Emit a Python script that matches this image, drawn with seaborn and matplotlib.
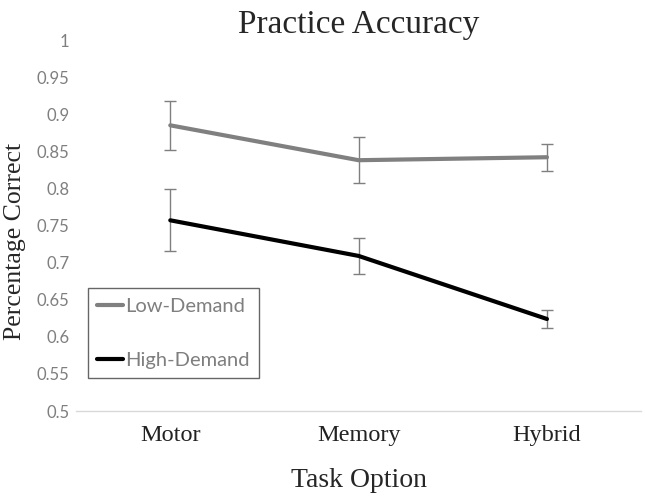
import numpy as np
import pandas as pd
import seaborn as sns
import matplotlib.pyplot as plt
from matplotlib.ticker import FixedLocator

# Data
tasks = ["Motor", "Memory", "Hybrid"]
low_demand = [0.885, 0.838, 0.842]
low_err = [0.033, 0.031, 0.018]
high_demand = [0.757, 0.709, 0.624]
high_err = [0.042, 0.024, 0.012]

df = pd.DataFrame({
    "Task": tasks * 2,
    "Accuracy": low_demand + high_demand,
    "Group": ["Low-Demand"] * 3 + ["High-Demand"] * 3,
})

sns.set_style("white")

fig = plt.figure(figsize=(6.45, 5), dpi=100)
ax = fig.add_axes([0.118, 0.178, 0.876, 0.742])

# Error bars first so lines sit on top
ax.errorbar(tasks, low_demand, yerr=low_err, fmt="none", ecolor="#7f7f7f",
            elinewidth=1, capsize=4, capthick=1, zorder=1)
ax.errorbar(tasks, high_demand, yerr=high_err, fmt="none", ecolor="#7f7f7f",
            elinewidth=1, capsize=4, capthick=1, zorder=1)

sns.lineplot(data=df, x="Task", y="Accuracy", hue="Group", sort=False,
             palette={"Low-Demand": "#808080", "High-Demand": "#000000"},
             linewidth=3, ax=ax, zorder=2)

ax.set_xlim(-0.5, 2.5)
ax.set_ylim(0.5, 1.0)
ax.set_yticks(np.arange(0.5, 1.001, 0.05))
ax.set_yticklabels(["0.5", "0.55", "0.6", "0.65", "0.7", "0.75", "0.8",
                    "0.85", "0.9", "0.95", "1"], family="Lato", fontsize=12,
                   color="#7f7f7f")
ax.set_xticks([0, 1, 2])
ax.set_xticklabels(tasks, family="Liberation Serif", fontsize=17.5, color="#222222")
ax.xaxis.set_minor_locator(FixedLocator([0.5, 1.5]))
ax.tick_params(axis="x", which="major", length=0, pad=10)
ax.tick_params(axis="x", which="minor", length=5, color="#d0d0d0", width=1)
ax.tick_params(axis="y", length=0, pad=5)

for side in ["top", "right", "left"]:
    ax.spines[side].set_visible(False)
ax.spines["bottom"].set_color("#d9d9d9")
ax.spines["bottom"].set_linewidth(1)

ax.set_title("Practice Accuracy", family="Liberation Serif", fontsize=24, pad=5)
ax.set_xlabel("Task Option", family="Liberation Serif", fontsize=20, labelpad=16)
ax.set_ylabel("Percentage Correct", family="Liberation Serif", fontsize=18.5)
ax.yaxis.set_label_coords(-0.089, 0.457)

leg = ax.legend(loc="lower left", bbox_to_anchor=(0.021, 0.089), frameon=True,
                fancybox=False, handlelength=1.3, handletextpad=0.1,
                labelspacing=1.85, borderpad=0.45, borderaxespad=0,
                prop={"family": "Lato", "size": 14.5})
leg.get_frame().set_edgecolor("#404040")
leg.get_frame().set_linewidth(1)
for t in leg.get_texts():
    t.set_color("#7f7f7f")
for h in leg.get_lines():
    h.set_linewidth(3)

fig.savefig("out.png", dpi=100)
